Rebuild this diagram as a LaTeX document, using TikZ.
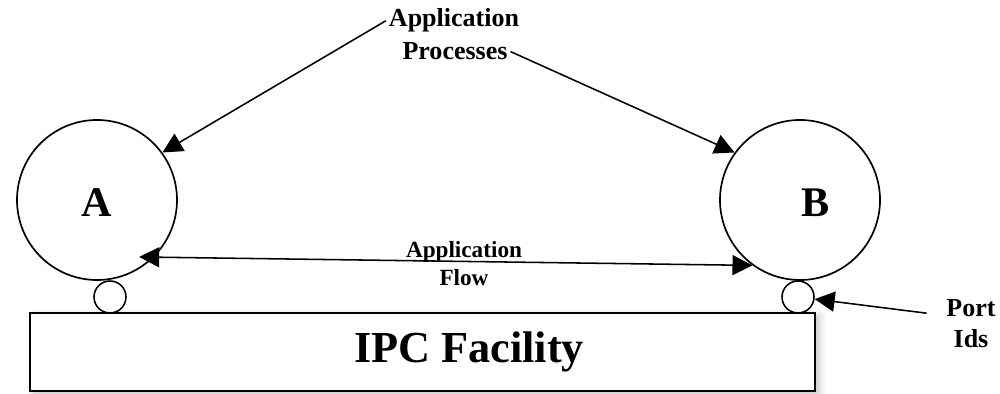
\documentclass[tikz,border=0pt]{standalone}
\usepackage{fontspec}
\setmainfont{Liberation Serif}
\usetikzlibrary{arrows.meta,shadows.blur}

\begin{document}
\begin{tikzpicture}[
    proc/.style={circle, draw, line width=1.2pt, minimum size=4cm, inner sep=0pt},
    portid/.style={circle, draw, line width=1.1pt, minimum size=0.8cm, inner sep=0pt},
    lbl/.style={font=\fontsize{18.5}{22}\selectfont\bfseries, inner sep=2pt},
    arr/.style={line width=1.1pt, -{Triangle[length=0.5cm,width=0.5cm]}},
    dblarr/.style={line width=1.1pt, {Triangle[length=0.5cm,width=0.5cm]}-{Triangle[length=0.5cm,width=0.5cm]}}
]
    \useasboundingbox (0,0) rectangle (25,9.85);

    % IPC facility
    \node[draw, line width=1.1pt, fill=white, minimum width=19.625cm, minimum height=1.95cm,
        blur shadow={shadow xshift=3pt, shadow yshift=-2pt, shadow blur radius=5pt, shadow opacity=25}]
        (ipc) at (10.5625,1.05) {};
    \node[font=\fontsize{31.5}{36}\selectfont\bfseries, anchor=base] (ipclbl) at (11.725,0.775) {IPC Facility};

    % Application processes
    \node[proc] (A) at (2.425,4.85) {};
    \node[proc] (B) at (20,4.85) {};
    \node[font=\fontsize{30}{36}\selectfont\bfseries, anchor=base] (labA) at (2.425,4.425) {A};
    \node[font=\fontsize{30}{36}\selectfont\bfseries, anchor=base] (labB) at (20.4,4.425) {B};

    % Port ids
    \node[portid] (pA) at (2.75,2.425) {};
    \node[portid] (pB) at (19.95,2.425) {};

    % Labels
    \node[lbl, anchor=base] (app) at (11.35,9.175) {Application};
    \node[lbl, anchor=base] (procs) at (11.375,8.35) {Processes};
    \node[lbl, font=\fontsize{16.5}{19.9}\selectfont\bfseries, align=center] (flow) at (11.6,3.2625) {Application\\Flow};
    \node[lbl, align=center] (port) at (24.275,1.75) {Port\\Ids};

    % Arrows
    \draw[arr] (app.west) -- (A.36);
    \draw[arr] (procs.east) -- (B.144);
    \draw[dblarr, shorten <=-0.375cm] (A.-45) -- (B.-126);
    \draw[arr] ([xshift=-0.42cm,yshift=0.27cm]port.west) -- (pB);
\end{tikzpicture}
\end{document}
